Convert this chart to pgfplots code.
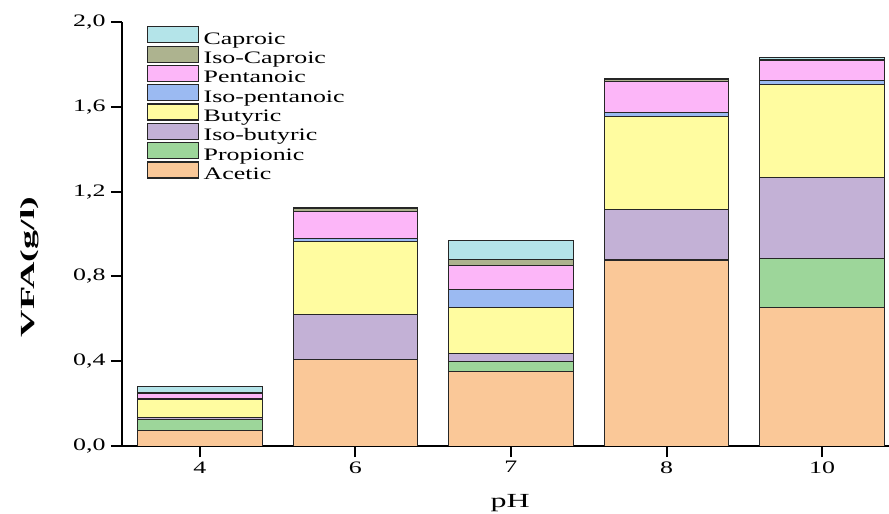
\documentclass[border=0pt]{standalone}
\usepackage{pgfplots}
\pgfplotsset{compat=1.18}
\usepackage{fontspec}
\setmainfont{Liberation Serif}
\definecolor{cAc}{HTML}{FAC898}
\definecolor{cPr}{HTML}{9DD69A}
\definecolor{ciB}{HTML}{C3B1D6}
\definecolor{cBu}{HTML}{FFFCA0}
\definecolor{ciP}{HTML}{9BBAF2}
\definecolor{cPe}{HTML}{FCB6F8}
\definecolor{ciC}{HTML}{ADB38F}
\definecolor{cCa}{HTML}{B4E4E9}
\newcommand{\sx}[1]{\scalebox{1.48}[1]{#1}}
\begin{document}
\begin{tikzpicture}
\useasboundingbox (-122bp,-68bp) rectangle (767bp,446bp);
\begin{axis}[
  at={(0,0)}, anchor=south west,
  scale only axis, width=767bp, height=424bp,
  xmin=-0.5, xmax=4.43, ymin=0, ymax=2.0,
  ybar stacked, bar width=0.8,
  axis x line=bottom, axis y line=left,
  axis line style={-, line width=2bp},
  every tick/.style={black, line width=2bp},
  tick align=outside, major tick length=11bp,
  xtick={0,1,2,3,4},
  xticklabels={\sx{4},\sx{6},\sx{7},\sx{8},\sx{10}},
  ytick={0,0.4,0.8,1.2,1.6,2.0},
  yticklabel={\sx{\pgfmathprintnumber[fixed,fixed zerofill,precision=1,use comma,assume math mode=true]{\tick}}},
  tick label style={font=\fontsize{17.5bp}{20bp}\selectfont},
  xticklabel style={yshift=-1bp},
  yticklabel style={xshift=-2bp},
  xlabel={\scalebox{1.6}[1]{pH}},
  xlabel style={font=\fontsize{20bp}{24bp}\selectfont, at={(axis description cs:0.506,-0.146)}, anchor=base},
  ylabel={\scalebox{1.9}[1]{\bfseries VFA(g/l)}},
  ylabel style={font=\fontsize{20bp}{24bp}\selectfont, at={(axis description cs:-0.12,0.422)}, anchor=center, rotate=0},
  every axis plot/.append style={draw=black!85, line width=1bp},
  legend image code/.code={\draw[#1, line width=1.2bp] (0bp,-3.5bp) rectangle (51bp,12.5bp);},
  reverse legend,
  legend cell align=left,
  legend style={at={(axis description cs:0.0326,0.99)}, anchor=north west, draw=none, fill=none,
    inner sep=0pt, outer sep=0pt, row sep=-2.8bp,
    font=\fontsize{17.5bp}{20bp}\selectfont,
    nodes={inner xsep=4.5bp, inner ysep=0pt, text height=14bp, text depth=4bp}},
]
\addplot[fill=cAc] coordinates {(0,0.075) (1,0.406) (2,0.351) (3,0.877) (4,0.652)};
\addlegendentry{\sx{Acetic}}
\addplot[fill=cPr] coordinates {(0,0.051) (1,0.000) (2,0.049) (3,0.003) (4,0.233)};
\addlegendentry{\sx{Propionic}}
\addplot[fill=ciB] coordinates {(0,0.008) (1,0.215) (2,0.037) (3,0.235) (4,0.381)};
\addlegendentry{\sx{Iso-butyric}}
\addplot[fill=cBu] coordinates {(0,0.083) (1,0.343) (2,0.215) (3,0.438) (4,0.440)};
\addlegendentry{\sx{Butyric}}
\addplot[fill=ciP] coordinates {(0,0.005) (1,0.016) (2,0.087) (3,0.019) (4,0.019)};
\addlegendentry{\sx{Iso-pentanoic}}
\addplot[fill=cPe] coordinates {(0,0.027) (1,0.125) (2,0.112) (3,0.147) (4,0.093)};
\addlegendentry{\sx{Pentanoic}}
\addplot[fill=ciC] coordinates {(0,0.004) (1,0.016) (2,0.029) (3,0.008) (4,0.006)};
\addlegendentry{\sx{Iso-Caproic}}
\addplot[fill=cCa] coordinates {(0,0.027) (1,0.003) (2,0.088) (3,0.007) (4,0.007)};
\addlegendentry{\sx{Caproic}}
\end{axis}
\end{tikzpicture}
\end{document}
